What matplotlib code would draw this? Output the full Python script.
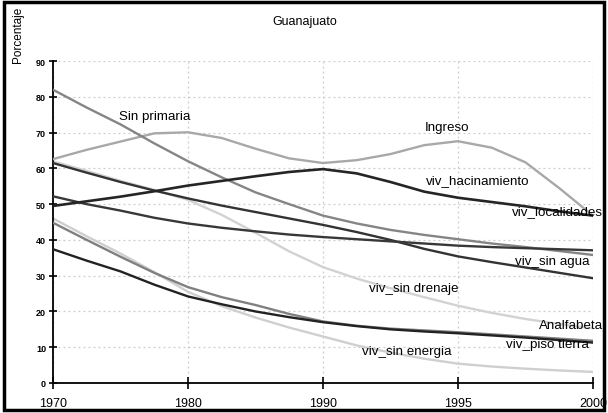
import matplotlib
matplotlib.use("Agg")
from matplotlib import pyplot as plt
from matplotlib.patches import Rectangle

plt.rcParams['font.family'] = ['Liberation Sans', 'DejaVu Sans']

anios = ["1970", "1980", "1990", "1995", "2000"]
# puntos leidos cada cuarto de intervalo entre censos
periodo = [0, 0.25, 0.5, 0.75, 1, 1.25, 1.5, 1.75, 2, 2.25, 2.5, 2.75, 3, 3.25, 3.5, 3.75, 4]

sin_primaria = [82.0, 77.0, 72.3, 67.0, 62.0, 57.5, 53.3, 50.0, 46.8, 44.6, 42.8, 41.4, 40.2, 39.0, 38.0, 36.9, 35.8]
ingreso = [62.6, 65.2, 67.5, 69.8, 70.1, 68.5, 65.5, 62.8, 61.5, 62.3, 64.0, 66.5, 67.6, 65.8, 61.7, 54.5, 46.8]
hacinamiento = [49.5, 50.8, 52.1, 53.6, 55.2, 56.5, 57.8, 59.0, 59.8, 58.6, 56.2, 53.5, 51.8, 50.6, 49.4, 48.0, 46.8]
sin_agua = [61.5, 58.8, 56.2, 53.8, 51.6, 49.6, 47.8, 46.0, 44.2, 42.2, 40.0, 37.5, 35.4, 33.8, 32.3, 30.8, 29.3]
localidades = [52.2, 50.0, 48.2, 46.2, 44.6, 43.4, 42.4, 41.5, 40.8, 40.2, 39.6, 39.0, 38.4, 38.0, 37.7, 37.4, 37.1]
sin_drenaje = [62.0, 59.3, 56.5, 54.0, 51.2, 47.0, 42.0, 36.8, 32.4, 29.2, 26.5, 24.0, 21.6, 19.6, 17.9, 16.5, 15.3]
analfabeta = [44.8, 40.0, 35.3, 30.8, 26.8, 24.0, 21.8, 19.3, 17.2, 16.0, 15.2, 14.7, 14.2, 13.6, 13.0, 12.4, 11.8]
piso_tierra = [37.4, 34.2, 31.2, 27.5, 24.2, 22.0, 20.0, 18.4, 17.0, 15.9, 15.0, 14.4, 13.9, 13.3, 12.7, 12.0, 11.3]
sin_energia = [46.0, 41.0, 36.2, 31.0, 25.5, 21.5, 18.3, 15.5, 13.0, 10.5, 8.5, 6.8, 5.4, 4.6, 4.0, 3.5, 3.1]

fig = plt.figure(figsize=(6.08, 4.14), dpi=100)
ax = fig.add_axes([0.0872, 0.0725, 0.888, 0.7775])

# lineas claras primero, oscuras encima
ax.plot(periodo, sin_drenaje, color="#d2d2d2", lw=1.7, zorder=2)
ax.plot(periodo, sin_energia, color="#cfcfcf", lw=1.7, zorder=2)
ax.plot(periodo, ingreso, color="#a8a8a8", lw=1.7, zorder=3)
ax.plot(periodo, sin_primaria, color="#858585", lw=1.7, zorder=3)
ax.plot(periodo, analfabeta, color="#808080", lw=1.7, zorder=3)
ax.plot(periodo, sin_agua, color="#333333", lw=1.7, zorder=4)
ax.plot(periodo, localidades, color="#383838", lw=1.7, zorder=4)
ax.plot(periodo, hacinamiento, color="#252525", lw=1.9, zorder=4)
ax.plot(periodo, piso_tierra, color="#222222", lw=1.7, zorder=4)

fs = 9.6
ax.text(0.755, 74.6, "Sin primaria", fontsize=fs, ha="center", va="center", zorder=5)
ax.text(2.92, 71.5, "Ingreso", fontsize=fs, ha="center", va="center", zorder=5)
ax.text(3.15, 56.7, "viv_hacinamiento", fontsize=fs, ha="center", va="center", zorder=5)
ax.text(3.74, 48.0, "viv_localidades", fontsize=fs, ha="center", va="center", zorder=5, clip_on=False)
ax.text(3.70, 34.0, "viv_sin agua", fontsize=fs, ha="center", va="center", zorder=5)
ax.text(2.67, 26.5, "viv_sin drenaje", fontsize=fs, ha="center", va="center", zorder=5)
ax.text(3.84, 16.2, "Analfabeta", fontsize=fs, ha="center", va="center", zorder=5, clip_on=False)
ax.text(3.66, 10.9, "viv_piso tierra", fontsize=fs, ha="center", va="center", zorder=5)
ax.text(2.62, 8.9, "viv_sin energia", fontsize=fs, ha="center", va="center", zorder=5)

ax.set_xlim(0, 4)
ax.set_ylim(0, 90)
ax.set_xticks(range(len(anios)))
ax.set_xticklabels(anios, fontsize=9)
ax.set_yticks(range(0, 91, 10))
ax.tick_params(axis="y", labelsize=6.5, direction="inout", length=6, width=1.2, pad=2)
ax.tick_params(axis="x", direction="inout", length=8, width=1.2, pad=6)
for lbl in ax.get_yticklabels():
    lbl.set_fontweight("bold")

ax.grid(True, color="#cccccc", linestyle=(0, (1.5, 2.5)), linewidth=0.9)
ax.set_axisbelow(True)
for s in ["top", "right"]:
    ax.spines[s].set_visible(False)
for s in ["left", "bottom"]:
    ax.spines[s].set_linewidth(1.3)

fig.text(0.502, 0.947, "Guanajuato", fontsize=9, ha="center", va="center")
fig.text(0.03, 0.915, "Porcentaje", fontsize=8.5, rotation=90, ha="center", va="center")

fig.patches.append(Rectangle((0.006, 0.008), 0.988, 0.984, transform=fig.transFigure,
                             fill=False, edgecolor="black", linewidth=2.5))

fig.savefig("out.png", dpi=100)
